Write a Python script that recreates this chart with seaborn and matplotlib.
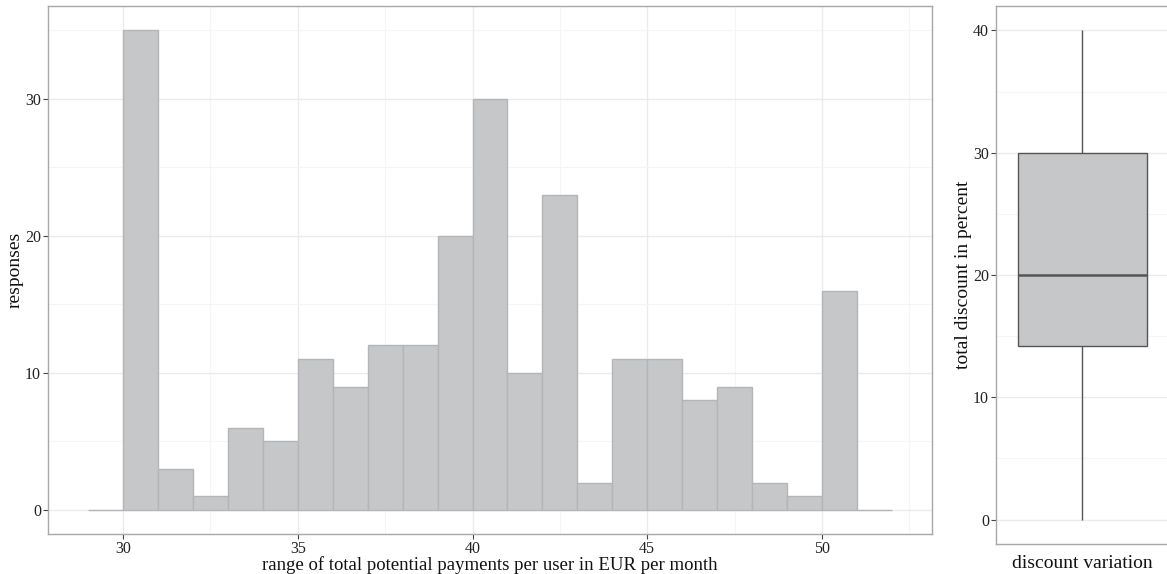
import numpy as np
import pandas as pd
import matplotlib
matplotlib.use("Agg")
import matplotlib.pyplot as plt
import seaborn as sns
from matplotlib.ticker import MultipleLocator

# ---- data ----
bin_edges = list(range(29, 53))  # 29..52
counts = [0, 35, 3, 1, 6, 5, 11, 9, 12, 12, 20, 30, 10, 23, 2, 11, 11, 8, 9, 2, 1, 16, 0]
hist_xticks = [30, 35, 40, 45, 50]
hist_yticks = [0, 10, 20, 30]

# boxplot summary values (min, Q1, median, Q3, max)
discount_values = [0, 14.2, 20, 30, 40]
box_yticks = [0, 10, 20, 30, 40]

x_label = "range of total potential payments per user in EUR per month"
y_label = "responses"
box_x_label = "discount variation"
box_y_label = "total discount in percent"

sns.set_theme(style="white")
plt.rcParams['font.family'] = ['Liberation Serif', 'DejaVu Serif']

W, H = 1167, 574
fig = plt.figure(figsize=(W / 100, H / 100), dpi=100)

fill = "#C6C7C9"
edge = "#B4B5B8"
border = "#A8A8A8"
grid_major = "#EBEBEB"
grid_minor = "#F5F5F5"

def px_axes(l, t, r, b):
    return fig.add_axes([l / W, 1 - b / H, (r - l) / W, (b - t) / H])

def style(ax):
    for s in ax.spines.values():
        s.set_color(border)
        s.set_linewidth(1.0)
    ax.grid(True, which="major", color=grid_major, linewidth=1.0)
    ax.grid(True, which="minor", color=grid_minor, linewidth=0.8)
    ax.set_axisbelow(True)
    ax.tick_params(which="major", bottom=True, left=True, length=3.5, width=0.8,
                   color="#444444", labelsize=11.5, labelcolor="#222222", pad=1.5)
    ax.tick_params(which="minor", length=0)

# ---- histogram ----
ax1 = px_axes(48, 6, 932, 534)
centers = [(bin_edges[i] + bin_edges[i + 1]) / 2 for i in range(len(counts))]
df = pd.DataFrame({"x": centers, "w": counts})
sns.histplot(data=df, x="x", weights="w", bins=bin_edges, ax=ax1,
             color=fill, edgecolor=edge, linewidth=1.0, alpha=1.0)
ax1.set_xlim(27.85, 53.15)
ax1.set_ylim(-1.75, 36.75)
ax1.set_xticks(hist_xticks)
ax1.set_yticks(hist_yticks)
ax1.xaxis.set_minor_locator(MultipleLocator(2.5))
ax1.yaxis.set_minor_locator(MultipleLocator(5))
style(ax1)
ax1.set_xlabel(x_label, fontsize=13.5, labelpad=-0.5, color="#111111")
ax1.set_ylabel(y_label, fontsize=14, labelpad=1, color="#111111")

# ---- boxplot ----
ax2 = px_axes(996, 6, 1168, 544)
bdf = pd.DataFrame({"grp": ["d"] * len(discount_values), "v": discount_values})
sns.boxplot(data=bdf, x="grp", y="v", ax=ax2, width=0.9, color=fill,
            whis=1.5, fliersize=0, saturation=1,
            boxprops=dict(facecolor=fill, edgecolor="#555555", linewidth=1.0),
            whiskerprops=dict(color="#555555", linewidth=1.0),
            capprops=dict(linewidth=0),
            medianprops=dict(color="#555555", linewidth=1.8))
ax2.set_xlim(-0.6, 0.6)
ax2.set_ylim(-2, 42)
ax2.set_yticks(box_yticks)
ax2.yaxis.set_minor_locator(MultipleLocator(5))
ax2.set_xticks([])
style(ax2)
ax2.xaxis.grid(False)
ax2.set_xlabel(box_x_label, fontsize=14, labelpad=8, color="#111111")
ax2.set_ylabel(box_y_label, fontsize=14, labelpad=1, color="#111111")

fig.savefig("out.png", dpi=100)
